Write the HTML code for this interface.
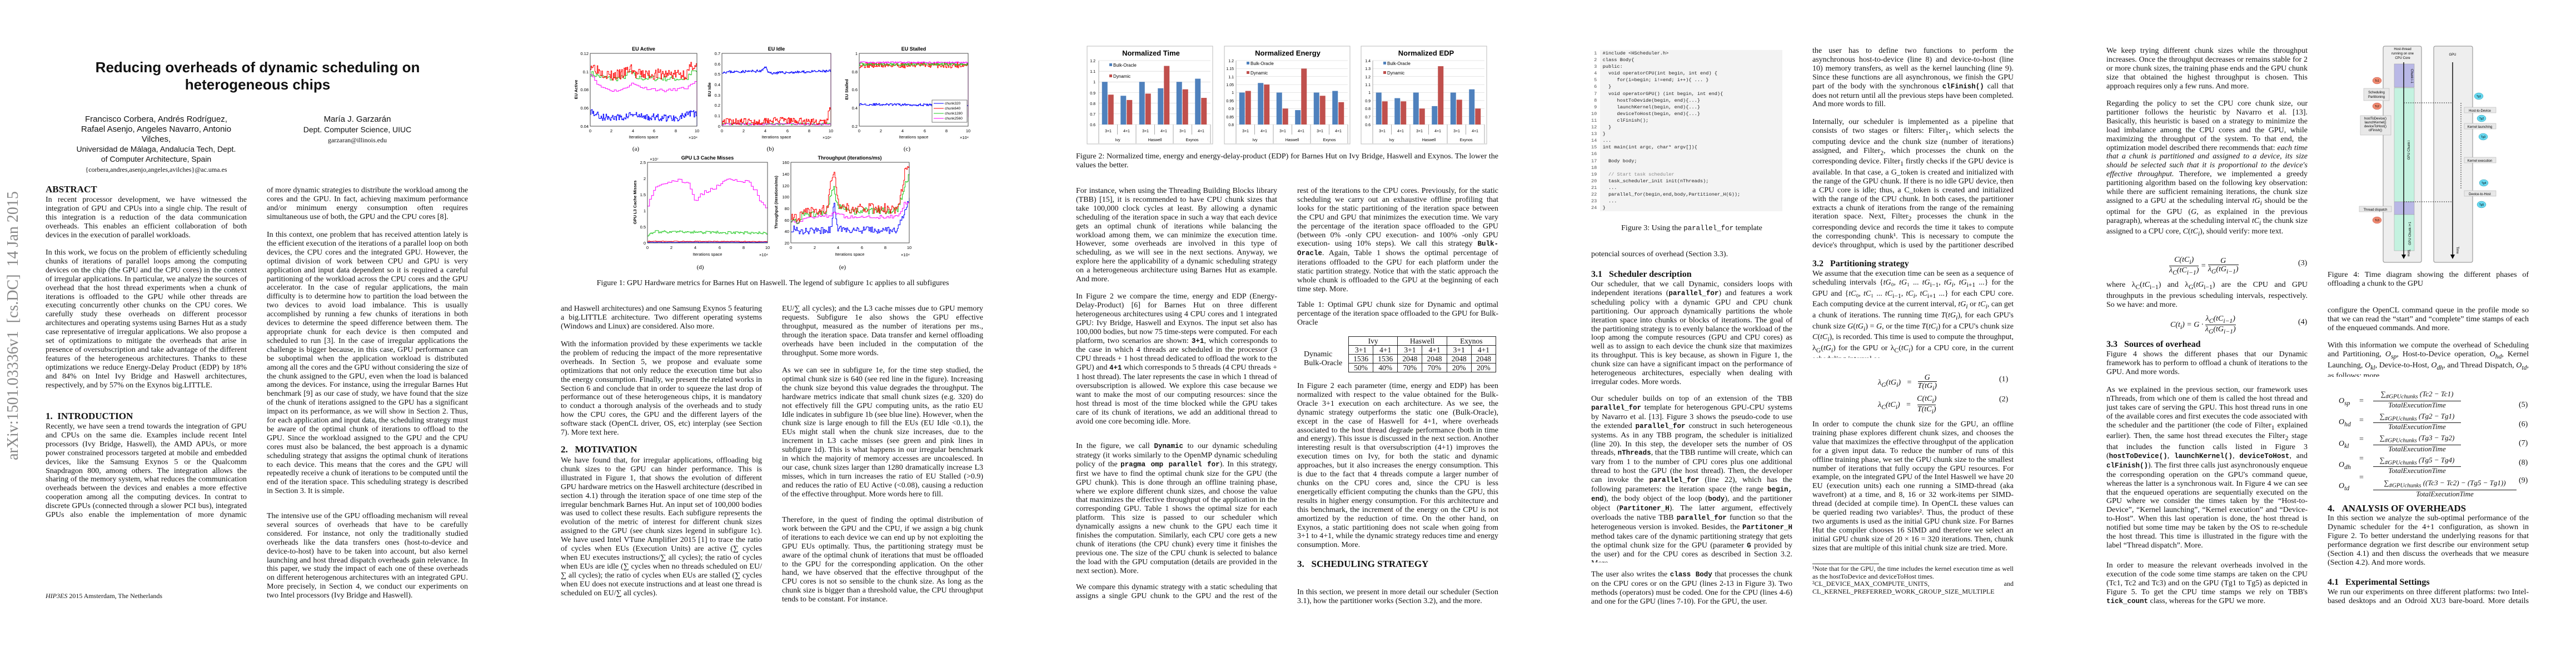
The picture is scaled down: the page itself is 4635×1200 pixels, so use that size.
<!DOCTYPE html>
<html><head><meta charset="utf-8">
<style>
*{margin:0;padding:0;box-sizing:border-box}
body{width:4635px;height:1200px;background:#fff;position:relative;overflow:hidden;font-family:"Liberation Serif",serif;color:#111}
.pg{position:absolute;top:0;width:927px;height:1200px;overflow:hidden}
.p{position:absolute;width:362px;font-size:14px;line-height:15.9px;text-align:justify;overflow:hidden}
.c1{left:82px}.c2{left:480px}
.h{position:absolute;font-weight:bold;font-size:17px;line-height:20px;white-space:nowrap}
.h2{position:absolute;font-weight:bold;font-size:16px;line-height:20px;white-space:nowrap}
.eq{position:absolute;font-size:14px;font-style:italic;white-space:nowrap}
.en{position:absolute;font-size:14px;white-space:nowrap}
code,.m{font-family:"Liberation Mono",monospace;font-size:12.5px}
svg{position:absolute;left:0;top:0}
svg text{font-family:"Liberation Sans",sans-serif}
.ct{position:absolute;font-size:14px;line-height:15.9px;white-space:nowrap}
table.t{position:absolute;border-collapse:collapse;font-size:13.5px}
table.t td{border:1px solid #222;text-align:center;height:16px;padding:0 2px;line-height:14px}
</style></head><body>

<!-- PAGE 1 -->
<div class="pg" style="left:0">
<div style="position:absolute;left:0;width:927px;top:106px;text-align:center;font-family:'Liberation Sans',sans-serif;font-weight:bold;font-size:26px;line-height:31px">Reducing overheads of dynamic scheduling on<br>heterogeneous chips</div>
<div style="position:absolute;left:100px;width:362px;top:206px;text-align:center;font-family:'Liberation Sans',sans-serif;font-size:15px;line-height:18px">Francisco Corbera, Andrés Rodríguez,<br>Rafael Asenjo, Angeles Navarro, Antonio<br>Vilches,<br><span style="font-size:14px;line-height:16px">Universidad de Málaga, Andalucía Tech, Dept.<br>of Computer Architecture, Spain</span><br><span style="font-family:'Liberation Serif';font-size:12px">{corbera,andres,asenjo,angeles,avilches}@ac.uma.es</span></div>
<div style="position:absolute;left:480px;width:326px;top:206px;text-align:center;font-family:'Liberation Sans',sans-serif;font-size:15px;line-height:18px">María J. Garzarán<br><span style="font-size:14px">Dept. Computer Science, UIUC</span><br><span style="font-family:'Liberation Serif';font-size:12px">garzaran@illinois.edu</span></div>
<div style="position:absolute;left:-235px;top:571px;width:518px;text-align:center;transform:rotate(-90deg);font-size:28px;color:#888;white-space:nowrap;line-height:30px">arXiv:1501.03336v1 &nbsp;[cs.DC] &nbsp;14 Jan 2015</div>
<div class="h c1" style="top:331px">ABSTRACT</div>
<div class="p c1" style="top:352px;height:79.5px">In recent processor development, we have witnessed the integration of GPU and CPUs into a single chip. The result of this integration is a reduction of the data communication overheads. This enables an efficient collaboration of both devices in the execution of parallel workloads.</div>
<div class="p c1" style="top:447px;height:270.3px">In this work, we focus on the problem of efficiently scheduling chunks of iterations of parallel loops among the computing devices on the chip (the GPU and the CPU cores) in the context of irregular applications. In particular, we analyze the sources of overhead that the host thread experiments when a chunk of iterations is offloaded to the GPU while other threads are executing concurrently other chunks on the CPU cores. We carefully study these overheads on different processor architectures and operating systems using Barnes Hut as a study case representative of irregular applications. We also propose a set of optimizations to mitigate the overheads that arise in presence of oversubscription and take advantage of the different features of the heterogeneous architectures. Thanks to these optimizations we reduce Energy-Delay Product (EDP) by 18% and 84% on Intel Ivy Bridge and Haswell architectures, respectively, and by 57% on the Exynos big.LITTLE.</div>
<div class="h c1" style="top:739px">1. &nbsp;INTRODUCTION</div>
<div class="p c1" style="top:760px;height:174.9px">Recently, we have seen a trend towards the integration of GPU and CPUs on the same die. Examples include recent Intel processors (Ivy Bridge, Haswell), the AMD APUs, or more power constrained processors targeted at mobile and embedded devices, like the Samsung Exynos 5 or the Qualcomm Snapdragon 800, among others. The integration allows the sharing of the memory system, what reduces the communication overheads between the devices and enables a more effective cooperation among all the computing devices. In contrat to discrete GPUs (connected through a slower PCI bus), integrated GPUs also enable the implementation of more dynamic strategies.</div>
<div style="position:absolute;left:82px;top:1065px;font-size:12px"><i>HIP3ES</i> 2015 Amsterdam, The Netherlands</div>
<div class="p c2" style="top:335px;height:63.6px">of more dynamic strategies to distribute the workload among the cores and the GPU. In fact, achieving maximum performance and/or minimum energy consumption often requires simultaneous use of both, the GPU and the CPU cores [8].</div>
<div class="p c2" style="top:415px;height:492.9px">In this context, one problem that has received attention lately is the efficient execution of the iterations of a parallel loop on both devices, the CPU cores and the integrated GPU. However, the optimal division of work between CPU and GPU is very application and input data dependent so it is required a careful partitioning of the workload across the CPU cores and the GPU accelerator. In the case of regular applications, the main difficulty is to determine how to partition the load between the two devices to avoid load imbalance. This is usually accomplished by running a few chunks of iterations in both devices to determine the speed difference between them. The appropriate chunk for each device is then computed and scheduled to run [3]. In the case of irregular applications the challenge is bigger because, in this case, GPU performance can be suboptimal when the application workload is distributed among all the cores and the GPU without considering the size of the chunk assigned to the GPU, even when the load is balanced among the devices. For instance, using the irregular Barnes Hut benchmark [9] as our case of study, we have found that the size of the chunk of iterations assigned to the GPU has a significant impact on its performance, as we will show in Section 2. Thus, for each application and input data, the scheduling strategy must be aware of the optimal chunk of iterations to offload to the GPU. Since the workload assigned to the GPU and the CPU cores must also be balanced, the best approach is a dynamic scheduling strategy that assigns the optimal chunk of iterations to each device. This means that the cores and the GPU will repeatedly receive a chunk of iterations to be computed until the end of the iteration space. This scheduling strategy is described in Section 3. It is simple.</div>
<div class="p c2" style="top:921px;height:174.9px">The intensive use of the GPU offloading mechanism will reveal several sources of overheads that have to be carefully considered. For instance, not only the traditionally studied overheads like the data transfers ones (host-to-device and device-to-host) have to be taken into account, but also kernel launching and host thread dispatch overheads gain relevance. In this paper, we study the impact of each one of these overheads on different heterogenous architectures with an integrated GPU. More precisely, in Section 4, we conduct our experiments on two Intel processors (Ivy Bridge and Haswell).</div>
</div>

<!-- PAGE 2 -->
<div class="pg" style="left:927px">
<svg id="s2" width="927" height="1200" font-size="7.5">
<g font-weight="bold" font-size="9" text-anchor="middle"><text x="231" y="91">EU Active</text><text x="470" y="91">EU Idle</text><text x="717" y="91">EU Stalled</text><text x="346" y="287">GPU L3 Cache Misses</text><text x="602" y="287">Throughput (iterations/ms)</text></g>
<g font-size="7.5" text-anchor="middle"><text x="231" y="249">Iterations space</text><text x="470" y="249">Iterations space</text><text x="717" y="249">Iterations space</text><text x="346" y="460">Iterations space</text><text x="602" y="460">Iterations space</text>
<text x="320" y="250">×10⁴</text><text x="561" y="250">×10⁴</text><text x="808" y="250">×10⁴</text><text x="447" y="461">×10⁴</text><text x="702" y="461">×10⁴</text><text x="250" y="289">×10⁷</text>
<text x="135" y="238">0</text><text x="173" y="238">2</text><text x="212" y="238">4</text><text x="250" y="238">6</text><text x="289" y="238">8</text><text x="327" y="238">10</text>
<text x="372" y="238">0</text><text x="411" y="238">2</text><text x="450" y="238">4</text><text x="490" y="238">6</text><text x="529" y="238">8</text><text x="568" y="238">10</text>
<text x="619" y="238">0</text><text x="658" y="238">2</text><text x="697" y="238">4</text><text x="737" y="238">6</text><text x="776" y="238">8</text><text x="815" y="238">10</text>
<text x="238" y="448">0</text><text x="281" y="448">2</text><text x="324" y="448">4</text><text x="368" y="448">6</text><text x="411" y="448">8</text><text x="454" y="448">10</text>
<text x="496" y="448">0</text><text x="539" y="448">2</text><text x="581" y="448">4</text><text x="624" y="448">6</text><text x="666" y="448">8</text><text x="709" y="448">10</text></g>
<g font-size="7.5" text-anchor="end">
<text x="132" y="230">0.04</text><text x="132" y="197">0.06</text><text x="132" y="164">0.08</text><text x="132" y="132">0.1</text><text x="132" y="99">0.12</text>
<text x="369" y="230">0</text><text x="369" y="211">0.1</text><text x="369" y="192">0.2</text><text x="369" y="174">0.3</text><text x="369" y="155">0.4</text><text x="369" y="136">0.5</text><text x="369" y="118">0.6</text><text x="369" y="99">0.7</text>
<text x="616" y="230">0.2</text><text x="616" y="197">0.4</text><text x="616" y="164">0.6</text><text x="616" y="132">0.8</text><text x="616" y="99">1</text>
<text x="235" y="440">0</text><text x="235" y="411">0.5</text><text x="235" y="382">1</text><text x="235" y="353">1.5</text><text x="235" y="324">2</text><text x="235" y="295">2.5</text>
<text x="493" y="440">20</text><text x="493" y="419">40</text><text x="493" y="399">60</text><text x="493" y="378">80</text><text x="493" y="357">100</text><text x="493" y="337">120</text><text x="493" y="316">140</text><text x="493" y="295">160</text></g>
<g font-size="7.5" font-weight="bold" text-anchor="middle">
<text transform="translate(112,161) rotate(-90)">EU Active</text><text transform="translate(352,161) rotate(-90)">EU Idle</text><text transform="translate(599,161) rotate(-90)">EU Stalled</text><text transform="translate(218,364) rotate(-90)">GPU L3 Cache Misses</text><text transform="translate(472,364) rotate(-90)">Throughput (iterations/ms)</text></g>
<g font-family="Liberation Serif" font-size="11" text-anchor="middle"><text x="217" y="271" style="font-family:'Liberation Serif'">(a)</text><text x="459" y="271" style="font-family:'Liberation Serif'">(b)</text><text x="705" y="271" style="font-family:'Liberation Serif'">(c)</text><text x="333" y="484" style="font-family:'Liberation Serif'">(d)</text><text x="589" y="484" style="font-family:'Liberation Serif'">(e)</text></g>
<g id="f1"></g>
<g fill="none" stroke="#222" stroke-width="0.8"><rect x="135" y="96" width="192" height="131"/><rect x="372" y="96" width="196" height="131"/><rect x="619" y="96" width="196" height="131"/><rect x="238" y="292" width="216" height="145"/><rect x="496" y="292" width="213" height="145"/></g>
<rect x="750" y="180" width="63" height="40" fill="#fff" stroke="#222" stroke-width="0.6"/>
<g stroke-width="1"><line x1="753" y1="186" x2="771" y2="186" stroke="#00f"/><line x1="753" y1="195" x2="771" y2="195" stroke="#f00"/><line x1="753" y1="204" x2="771" y2="204" stroke="#1ec81e"/><line x1="753" y1="213" x2="771" y2="213" stroke="#f0f"/></g>
<g font-size="6.5"><text x="773" y="188">chunk320</text><text x="773" y="197">chunk640</text><text x="773" y="206">chunk1280</text><text x="773" y="215">chunk2560</text></g>
</svg>
<div class="ct" style="left:0;width:927px;text-align:center;top:502px">Figure 1: GPU Hardware metrics for Barnes Hut on Haswell. The legend of subfigure 1c applies to all subfigures</div>
<div class="p c1" style="top:548px;height:47.7px">and Haswell architectures) and one Samsung Exynos 5 featuring a big.LITTLE architecture. Two different operating systems (Windows and Linux) are considered. Also more.</div>
<div class="p c1" style="top:612px;height:174.9px">With the information provided by these experiments we tackle the problem of reducing the impact of the more representative overheads. In Section 5, we propose and evaluate some optimizations that not only reduce the execution time but also the energy consumption. Finally, we present the related works in Section 6 and conclude that in order to squeeze the last drop of performance out of these heterogeneous chips, it is mandatory to conduct a thorough analysis of the overheads and to study how the CPU cores, the GPU and the different layers of the software stack (OpenCL driver, OS, etc) interplay (see Section 7). More text here.</div>
<div class="h c1" style="top:799px">2. &nbsp;&nbsp;MOTIVATION</div>
<div class="p c1" style="top:821px;height:270.3px">We have found that, for irregular applications, offloading big chunk sizes to the GPU can hinder performance. This is illustrated in Figure 1, that shows the evolution of different GPU hardware metrics on the Haswell architecture (described in section 4.1) through the iteration space of one time step of the irregular benchmark Barnes Hut. An input set of 100,000 bodies was used to collect these results. Each subfigure represents the evolution of the metric of interest for different chunk sizes assigned to the GPU (see chunk sizes legend in subfigure 1c). We have used Intel VTune Amplifier 2015 [1] to trace the ratio of cycles when EUs (Execution Units) are active (∑ cycles when EU executes instructions/∑ all cycles); the ratio of cycles when EUs are idle (∑ cycles when no threads scheduled on EU/∑ all cycles); the ratio of cycles when EUs are stalled (∑ cycles when EU does not execute instructions and at least one thread is scheduled on EU/∑ all cycles).</div>
<div class="p c2" style="top:548px;height:95.4px">EU/∑ all cycles); and the L3 cache misses due to GPU memory requests. Subfigure 1e also shows the GPU effective throughput, measured as the number of iterations per ms., through the iteration space. Data transfer and kernel offloading overheads have been included in the computation of the throughput. Some more words.</div>
<div class="p c2" style="top:659px;height:254.4px">As we can see in subfigure 1e, for the time step studied, the optimal chunk size is 640 (see red line in the figure). Increasing the chunk size beyond this value degrades the throughput. The hardware metrics indicate that small chunk sizes (e.g. 320) do not effectively fill the GPU computing units, as the ratio EU Idle indicates in subfigure 1b (see blue line). However, when the chunk size is large enough to fill the EUs (EU Idle &lt;0.1), the EUs might stall when the chunk size increases, due to the increment in L3 cache misses (see green and pink lines in subfigure 1d). This is what happens in our irregular benchmark in which the majority of memory accesses are uncoalesced. In our case, chunk sizes larger than 1280 dramatically increase L3 misses, which in turn increases the ratio of EU Stalled (&gt;0.9) and reduces the ratio of EU Active (&lt;0.08), causing a reduction of the effective throughput. More words here to fill.</div>
<div class="p c2" style="top:928px;height:159px">Therefore, in the quest of finding the optimal distribution of work between the GPU and the CPU, if we assign a big chunk of iterations to each device we can end up by not exploiting the GPU EUs optimally. Thus, the partitioning strategy must be aware of the optimal chunk of iterations that must be offloaded to the GPU for the corresponding application. On the other hand, we have observed that the effective throughput of the CPU cores is not so sensible to the chunk size. As long as the chunk size is bigger than a threshold value, the CPU throughput tends to be constant. For instance.</div>
</div>

<!-- PAGE 3 -->
<div class="pg" style="left:1854px">
<svg id="s3" width="927" height="1200">
<g fill="#fff" stroke="#bbb" stroke-width="1"><rect x="102" y="83" width="226" height="176"/><rect x="349" y="83" width="226" height="176"/><rect x="595" y="83" width="226" height="176"/></g>
<g id="f2"></g>
<g font-weight="bold" font-size="13" text-anchor="middle"><text x="217" y="100">Normalized Time</text><text x="463" y="100">Normalized Energy</text><text x="712" y="100">Normalized EDP</text></g>
<g font-size="7" text-anchor="end">
<text x="117" y="112">1.2</text><text x="117" y="131">1.1</text><text x="117" y="150">1</text><text x="117" y="170">0.9</text><text x="117" y="189">0.8</text><text x="117" y="208">0.7</text><text x="117" y="227">0.6</text>
<text x="366" y="112">1.2</text><text x="366" y="126">1.15</text><text x="366" y="141">1.1</text><text x="366" y="155">1.05</text><text x="366" y="169">1</text><text x="366" y="184">0.95</text><text x="366" y="198">0.9</text><text x="366" y="213">0.85</text><text x="366" y="227">0.8</text>
<text x="612" y="112">1.4</text><text x="612" y="126">1.3</text><text x="612" y="141">1.2</text><text x="612" y="155">1.1</text><text x="612" y="169">1</text><text x="612" y="184">0.9</text><text x="612" y="198">0.8</text><text x="612" y="213">0.7</text><text x="612" y="227">0.6</text></g>
<g id="lab" font-size="7" text-anchor="middle"></g>
<g font-size="8"><rect x="142" y="114" width="5" height="5" fill="#4f81bd"/><text x="149" y="120">Bulk-Oracle</text><rect x="142" y="134" width="5" height="5" fill="#c0504d"/><text x="149" y="140">Dynamic</text>
<rect x="389" y="111" width="5" height="5" fill="#4f81bd"/><text x="396" y="117">Bulk-Oracle</text><rect x="389" y="128" width="5" height="5" fill="#c0504d"/><text x="396" y="134">Dynamic</text>
<rect x="635" y="111" width="5" height="5" fill="#4f81bd"/><text x="642" y="117">Bulk-Oracle</text><rect x="635" y="128" width="5" height="5" fill="#c0504d"/><text x="642" y="134">Dynamic</text></g>
</svg>
<div class="p" style="left:82px;width:760px;top:274px;height:31.8px">Figure 2: Normalized time, energy and energy-delay-product (EDP) for Barnes Hut on Ivy Bridge, Haswell and Exynos. The lower the values the better.</div>
<div class="p c1" style="top:336px;height:174.9px">For instance, when using the Threading Building Blocks library (TBB) [15], it is recommended to have CPU chunk sizes that take 100,000 clock cycles at least. By allowing a dynamic scheduling of the iteration space in such a way that each device gets an optimal chunk of iterations while balancing the workload among them, we can minimize the execution time. However, some overheads are involved in this type of scheduling, as we will see in the next sections. Anyway, we explore here the applicability of a dynamic scheduling strategy on a heterogeneous architecture using Barnes Hut as example. And more.</div>
<div class="p c1" style="top:526px;height:254.4px">In Figure 2 we compare the time, energy and EDP (Energy-Delay-Product) [6] for Barnes Hut on three different heterogeneous architectures using 4 CPU cores and 1 integrated GPU: Ivy Bridge, Haswell and Exynos. The input set also has 100,000 bodies, but now 75 time-steps were computed. For each platform, two scenarios are shown: <b class="m">3+1</b>, which corresponds to the case in which 4 threads are scheduled in the processor (3 CPU threads + 1 host thread dedicated to offload the work to the GPU) and <b class="m">4+1</b> which corresponds to 5 threads (4 CPU threads + 1 host thread). The later represents the case in which 1 thread of oversubscription is allowed. We explore this case because we want to make the most of our computing resources: since the host thread is most of the time blocked while the GPU takes care of its chunk of iterations, we add an additional thread to avoid one core becoming idle. More.</div>
<div class="p c1" style="top:795px;height:238.5px">In the figure, we call <b class="m">Dynamic</b> to our dynamic scheduling strategy (it works similarly to the OpenMP dynamic scheduling policy of the <b class="m">pragma omp parallel for</b>). In this strategy, first we have to find the optimal chunk size for the GPU (the GPU chunk). This is done through an offline training phase, where we explore different chunk sizes, and choose the value that maximizes the effective throughput of the application in the corresponding GPU. Table 1 shows the optimal size for each platform. This size is passed to our scheduler which dynamically assigns a new chunk to the GPU each time it finishes the computation. Similarly, each CPU core gets a new chunk of iterations (the CPU chunk) every time it finishes the previous one. The size of the CPU chunk is selected to balance the load with the GPU computation (details are provided in the next section). More.</div>
<div class="p c1" style="top:1049px;height:31.8px">We compare this dynamic strategy with a static scheduling that assigns a single GPU chunk to the GPU and the rest of the iterations.</div>
<div class="p c2" style="top:336px;height:190.8px">rest of the iterations to the CPU cores. Previously, for the static scheduling we carry out an exhaustive offline profiling that looks for the static partitioning of the iteration space between the CPU and GPU that minimizes the execution time. We vary the percentage of the iteration space offloaded to the GPU (between 0% -only CPU execution- and 100% -only GPU execution- using 10% steps). We call this strategy <b class="m">Bulk-Oracle</b>. Again, Table 1 shows the optimal percentage of iterations offloaded to the GPU for each platform under the static partition strategy. Notice that with the static approach the whole chunk is offloaded to the GPU at the beginning of each time step. More.</div>
<div class="p c2" style="top:541px;height:47.7px">Table 1: Optimal GPU chunk size for Dynamic and optimal percentage of the iteration space offloaded to the GPU for Bulk-Oracle</div>
<div class="en" style="left:492px;top:630px;line-height:16px">Dynamic<br>Bulk-Oracle</div>
<table class="t" style="left:572px;top:605px;width:266px">
<tr><td colspan="2">Ivy</td><td colspan="2">Haswell</td><td colspan="2">Exynos</td></tr>
<tr><td>3+1</td><td>4+1</td><td>3+1</td><td>4+1</td><td>3+1</td><td>4+1</td></tr>
<tr><td>1536</td><td>1536</td><td>2048</td><td>2048</td><td>2048</td><td>2048</td></tr>
<tr><td>50%</td><td>40%</td><td>70%</td><td>70%</td><td>20%</td><td>20%</td></tr>
</table>
<div class="p c2" style="top:687px;height:302.1px">In Figure 2 each parameter (time, energy and EDP) has been normalized with respect to the value obtained for the Bulk-Oracle 3+1 execution on each architecture. As we see, the dynamic strategy outperforms the static one (Bulk-Oracle), except in the case of Haswell for 4+1, where overheads associated to the host thread degrade performance (both in time and energy). This issue is discussed in the next section. Another interesting result is that oversubscription (4+1) improves the execution times on Ivy, for both the static and dynamic approaches, but it also increases the energy consumption. This is due to the fact that 4 threads compute a larger number of chunks on the CPU cores and, since the CPU is less energetically efficient computing the chunks than the GPU, this results in higher energy consumption. For this architecture and this benchmark, the increment of the energy on the CPU is not amortized by the reduction of time. On the other hand, on Exynos, a static partitioning does not scale when going from 3+1 to 4+1, while the dynamic strategy reduces time and energy consumption. More.</div>
<div class="h c2" style="top:1005px">3. &nbsp;&nbsp;SCHEDULING STRATEGY</div>
<div class="p c2" style="top:1058px;height:31.8px">In this section, we present in more detail our scheduler (Section 3.1), how the partitioner works (Section 3.2), and the more.</div>
</div>

<!-- PAGE 4 -->
<div class="pg" style="left:2781px">
<div style="position:absolute;left:98px;top:90px;width:328px;height:290px;background:#f3f3f3"></div>
<pre style="position:absolute;left:82px;top:90px;font-family:'Liberation Mono',monospace;font-size:8.6px;line-height:12.1px;color:#222"><span style="color:#555"> 1</span>  #include &lt;HScheduler.h&gt;
<span style="color:#555"> 2</span>  class Body{
<span style="color:#555"> 3</span>  public:
<span style="color:#555"> 4</span>    void operatorCPU(int begin, int end) {
<span style="color:#555"> 5</span>       for(i=begin; i!=end; i++){ ... }
<span style="color:#555"> 6</span>    }
<span style="color:#555"> 7</span>    void operatorGPU() (int begin, int end){
<span style="color:#555"> 8</span>       hostToDevide(begin, end){...}
<span style="color:#555"> 9</span>       launchKernel(begin, end){...}
<span style="color:#555">10</span>       deviceToHost(begin, end){...}
<span style="color:#555">11</span>       clFinish();
<span style="color:#555">12</span>    }
<span style="color:#555">13</span>  }
<span style="color:#555">14</span>  ...
<span style="color:#555">15</span>  int main(int argc, char* argv[]){
<span style="color:#555">16</span>
<span style="color:#555">17</span>    Body body;
<span style="color:#555">18</span>
<span style="color:#555">19</span>    <span style="color:#888">// Start task scheduler</span>
<span style="color:#555">20</span>    task_scheduler_init init(nThreads);
<span style="color:#555">21</span>    ...
<span style="color:#555">22</span>    parallel_for(begin,end,body,Partitioner_H(G));
<span style="color:#555">23</span>    ...
<span style="color:#555">24</span>  }</pre>
<div class="ct" style="left:82px;width:362px;text-align:center;top:403px">Figure 3: Using the <span class="m">parallel_for</span> template</div>
<div class="p c1" style="top:450px;height:15.9px">potencial sources of overhead (Section 3.3).</div>
<div class="h2 c1" style="top:484px">3.1 &nbsp;&nbsp;Scheduler description</div>
<div class="p c1" style="top:504px;height:190.8px">Our scheduler, that we call Dynamic, considers loops with independent iterations (<b class="m">parallel_for</b>) and features a work scheduling policy with a dynamic GPU and CPU chunk partitioning. Our approach dynamically partitions the whole iteration space into chunks or blocks of iterations. The goal of the partitioning strategy is to evenly balance the workload of the loop among the compute resources (GPU and CPU cores) as well as to assign to each device the chunk size that maximizes its throughput. This is key because, as shown in Figure 1, the chunk size can have a significant impact on the performance of heterogeneous architectures, especially when dealing with irregular codes. More words.</div>
<div class="p c1" style="top:710px;height:302.1px">Our scheduler builds on top of an extension of the TBB <b class="m">parallel_for</b> template for heterogenous GPU-CPU systems by Navarro et al. [13]. Figure 3 shows the pseudo-code to use the extended <b class="m">parallel_for</b> construct in such heterogeneous systems. As in any TBB program, the scheduler is initialized (line 20). In this step, the developer sets the number of OS threads, <b class="m">nThreads</b>, that the TBB runtime will create, which can vary from 1 to the number of CPU cores plus one additional thread to host the GPU (the host thread). Then, the developer can invoke the <b class="m">parallel_for</b> (line 22), which has the following parameters: the iteration space (the range <b class="m">begin, end</b>), the body object of the loop (<b class="m">body</b>), and the partitioner object (<b class="m">Partitoner_H</b>). The latter argument, effectively overloads the native TBB <b class="m">parallel_for</b> function so that the heterogeneous version is invoked. Besides, the <b class="m">Partitoner_H</b> method takes care of the dynamic partitioning strategy that gets the optimal chunk size for the GPU (parameter <b class="m">G</b> provided by the user) and for the CPU cores as described in Section 3.2. More.</div>
<div class="p c1" style="top:1026px;height:63.6px">The user also writes the <b class="m">class Body</b> that processes the chunk on the CPU cores or on the GPU (lines 2-13 in Figure 3). Two methods (operators) must be coded. One for the CPU (lines 4-6) and one for the GPU (lines 7-10). For the GPU, the user.</div>
<div class="p c2" style="top:84px;height:111.3px">the user has to define two functions to perform the asynchronous host-to-device (line 8) and device-to-host (line 10) memory transfers, as well as the kernel launching (line 9). Since these functions are all asynchronous, we finish the GPU part of the body with the synchronous <b class="m">clFinish()</b> call that does not return until all the previous steps have been completed. And more words to fill.</div>
<div class="p c2" style="top:212px;height:238.5px">Internally, our scheduler is implemented as a pipeline that consists of two stages or filters: Filter<sub>1</sub>, which selects the computing device and the chunk size (number of iterations) assigned, and Filter<sub>2</sub>, which processes the chunk on the corresponding device. Filter<sub>1</sub> firstly checks if the GPU device is available. In that case, a G_token is created and initialized with the range of the GPU chunk. If there is no idle GPU device, then a CPU core is idle; thus, a C_token is created and initialized with the range of the CPU chunk. In both cases, the partitioner extracts a chunk of iterations from the range of the remaining iteration space. Next, Filter<sub>2</sub> processes the chunk in the corresponding device and records the time it takes to compute the corresponding chunk¹. This is necessary to compute the device's throughput, which is used by the partitioner described next. More words.</div>
<div class="h2 c2" style="top:465px">3.2 &nbsp;&nbsp;Partitioning strategy</div>
<div class="p c2" style="top:485px;height:159px">We assume that the execution time can be seen as a sequence of scheduling intervals {<i>tG</i>₀, <i>tG</i>₁ ... <i>tG</i><sub>i−1</sub>, <i>tG<sub>i</sub></i>, <i>tG</i><sub>i+1</sub> ...} for the GPU and {<i>tC</i>₀, <i>tC</i>₁ ... <i>tC</i><sub>i−1</sub>, <i>tC<sub>i</sub></i>, <i>tC</i><sub>i+1</sub> ...} for each CPU core. Each computing device at the current interval, <i>tG<sub>i</sub></i> or <i>tC<sub>i</sub></i>, can get a chunk of iterations. The running time <i>T</i>(<i>tG<sub>i</sub></i>), for each GPU's chunk size <i>G</i>(<i>tG<sub>i</sub></i>) = <i>G</i>, or the time <i>T</i>(<i>tC<sub>i</sub></i>) for a CPU's chunk size <i>C</i>(<i>tC<sub>i</sub></i>), is recorded. This time is used to compute the throughput, λ<sub>G</sub>(<i>tG<sub>i</sub></i>) for the GPU or λ<sub>C</sub>(<i>tC<sub>i</sub></i>) for a CPU core, in the current scheduling interval as,</div>
<div class="eq" style="left:598px;top:672px">λ<sub>G</sub>(tG<sub>i</sub>) &nbsp;&nbsp;=&nbsp;&nbsp; <span style="display:inline-block;text-align:center;vertical-align:middle;line-height:15px">G<br><span style="border-top:1px solid #111">T(tG<sub>i</sub>)</span></span></div>
<div class="eq" style="left:598px;top:710px">λ<sub>C</sub>(tC<sub>i</sub>) &nbsp;&nbsp;=&nbsp;&nbsp; <span style="display:inline-block;text-align:center;vertical-align:middle;line-height:15px">C(tC<sub>i</sub>)<br><span style="border-top:1px solid #111">T(tC<sub>i</sub>)</span></span></div>
<div class="en" style="left:816px;top:675px">(1)</div><div class="en" style="left:816px;top:711px">(2)</div>
<div class="p c2" style="top:756px;height:254.4px">In order to compute the chunk size for the GPU, an offline training phase explores different chunk sizes, and chooses the value that maximizes the effective throughput of the application for a given input data. To reduce the number of runs of this offline training phase, we set the GPU chunk size to the smallest number of iterations that fully occupy the GPU resources. For example, on the integrated GPU of the Intel Haswell we have 20 EU (execution units) each one running a SIMD-thread (aka wavefront) at a time, and 8, 16 or 32 work-items per SIMD-thread (decided at compile time). In OpenCL these values can be queried reading two variables². Thus, the product of these two arguments is used as the initial GPU chunk size. For Barnes Hut the compiler chooses 16 SIMD and therefore we select an initial GPU chunk size of 20 × 16 = 320 iterations. Then, chunk sizes that are multiple of this initial chunk size are tried. More.</div>
<div style="position:absolute;left:480px;top:1014px;width:120px;border-top:1px solid #333"></div>
<div style="position:absolute;left:480px;top:1017px;width:362px;font-size:12px;line-height:13.5px;text-align:justify">¹Note that for the GPU, the time includes the kernel execution time as well as the hostToDevice and deviceToHost times.<br>²CL_DEVICE_MAX_COMPUTE_UNITS, and CL_KERNEL_PREFERRED_WORK_GROUP_SIZE_MULTIPLE</div>
</div>

<!-- PAGE 5 -->
<div class="pg" style="left:3708px">
<svg width="927" height="1200" font-size="6">
<rect x="580" y="83" width="69" height="389" rx="3" fill="#eee" stroke="#888"/>
<rect x="671" y="83" width="70" height="389" rx="3" fill="#eee" stroke="#888"/>
<rect x="600" y="115" width="36" height="42" fill="#b9b8e6" stroke="#999" stroke-width="0.5"/>
<rect x="600" y="158" width="36" height="205" fill="#c4f2e0" stroke="#999" stroke-width="0.5"/>
<rect x="600" y="363" width="36" height="23" fill="#b9b8e6" stroke="#999" stroke-width="0.5"/>
<rect x="600" y="386" width="36" height="65" fill="#c4f2e0" stroke="#999" stroke-width="0.5"/>
<line x1="617" y1="112" x2="617" y2="462" stroke="#111" stroke-width="1.5"/>
<line x1="705" y1="112" x2="705" y2="462" stroke="#111" stroke-width="1.5"/>
<path d="M613 458 L617 466 L621 458Z M701 458 L705 466 L709 458Z"/>
<g stroke="#333" stroke-dasharray="2,2" fill="none"><line x1="617" y1="185" x2="703" y2="185"/><line x1="617" y1="363" x2="703" y2="363"/><line x1="720" y1="185" x2="720" y2="340"/></g>
<g text-anchor="middle" font-size="6"><text x="615" y="90">Host-thread</text><text x="615" y="98">running on one</text><text x="615" y="106">CPU Core</text><text x="705" y="100">GPU</text></g>
<g fill="#e8e8e8" stroke="#aaa" stroke-width="0.5"><rect x="545" y="159" width="46" height="22"/><rect x="539" y="208" width="55" height="35"/><rect x="537" y="371" width="58" height="10"/><rect x="726" y="193" width="57" height="10"/><rect x="726" y="222" width="57" height="10"/><rect x="726" y="283" width="57" height="10"/><rect x="726" y="343" width="57" height="10"/></g>
<g text-anchor="middle" font-size="6"><text x="568" y="168">Scheduling</text><text x="568" y="176">Partitioning</text><text x="566" y="215">hostToDevice()</text><text x="566" y="222">launchKernel()</text><text x="566" y="229">deviceToHost()</text><text x="566" y="236">clFinish()</text><text x="566" y="379">Thread dispatch</text><text x="754" y="201">Host-to-Device</text><text x="754" y="230">Kernel launching</text><text x="754" y="291">Kernel execution</text><text x="754" y="351">Device-to-Host</text></g>
<g fill="#f08a70" stroke="#b55" stroke-width="0.5"><ellipse cx="569" cy="145" rx="8" ry="6"/><ellipse cx="569" cy="191" rx="8" ry="6"/><ellipse cx="569" cy="396" rx="8" ry="6"/></g>
<g fill="#66d8f0" stroke="#39a" stroke-width="0.5"><ellipse cx="752" cy="173" rx="8" ry="6"/><ellipse cx="757" cy="213" rx="8" ry="6"/><ellipse cx="760" cy="246" rx="8" ry="6"/><ellipse cx="761" cy="329" rx="8" ry="6"/><ellipse cx="757" cy="368" rx="8" ry="6"/></g>
<g font-size="5" text-anchor="middle"><text x="569" y="147">Tc1</text><text x="569" y="193">Tc2</text><text x="569" y="398">Tc3</text><text x="752" y="175">Tg1</text><text x="757" y="215">Tg2</text><text x="760" y="248">Tg3</text><text x="761" y="331">Tg4</text><text x="757" y="370">Tg5</text></g>
<g font-size="6" text-anchor="middle"><text transform="translate(630,137) rotate(90)">Chunk i-1</text><text transform="translate(628,270) rotate(-90)">GPU Chunk i</text><text transform="translate(630,420) rotate(-90)">GPU Chunk i+1</text><text transform="translate(624,455) rotate(90)">Time</text><text transform="translate(712,450) rotate(90)">Time</text></g>
</svg>
<div class="p c1" style="top:84px;height:79.5px">We keep trying different chunk sizes while the throughput increases. Once the throughput decreases or remains stable for 2 or more chunk sizes, the training phase ends and the GPU chunk size that obtained the highest throughput is chosen. This approach requires only a few runs. And more.</div>
<div class="p c1" style="top:179px;height:254.4px">Regarding the policy to set the CPU core chunk size, our partitioner follows the heuristic by Navarro et al. [13]. Basically, this heuristic is based on a strategy to minimize the load imbalance among the CPU cores and the GPU, while maximizing the throughput of the system. To that end, the optimization model described there recommends that: <i>each time that a chunk is partitioned and assigned to a device, its size should be selected such that it is proportional to the device's effective throughput.</i> Therefore, we implemented a greedy partitioning algorithm based on the following key observation: while there are sufficient remaining iterations, the chunk size assigned to a GPU at the scheduling interval <i>tG<sub>i</sub></i> should be the optimal for the GPU (<i>G</i>, as explained in the previous paragraph), whereas at the scheduling interval <i>tC<sub>i</sub></i> the chunk size assigned to a CPU core, <i>C</i>(<i>tC<sub>i</sub></i>), should verify: more text.</div>
<div class="eq" style="left:195px;top:460px"><span style="display:inline-block;text-align:center;vertical-align:middle;line-height:15px">C(tC<sub>i</sub>)<br><span style="border-top:1px solid #111">λ<sub>C</sub>(tC<sub>i−1</sub>)</span></span> = <span style="display:inline-block;text-align:center;vertical-align:middle;line-height:15px">G<br><span style="border-top:1px solid #111">λ<sub>G</sub>(tG<sub>i−1</sub>)</span></span></div>
<div class="en" style="left:427px;top:466px">(3)</div>
<div class="p c1" style="top:505px;height:47.7px">where λ<sub>C</sub>(<i>tC</i><sub>i−1</sub>) and λ<sub>G</sub>(<i>tG</i><sub>i−1</sub>) are the CPU and GPU throughputs in the previous scheduling intervals, respectively. So we have: and more.</div>
<div class="eq" style="left:197px;top:566px">C(t<sub>i</sub>) = G · <span style="display:inline-block;text-align:center;vertical-align:middle;line-height:15px">λ<sub>C</sub>(tC<sub>i−1</sub>)<br><span style="border-top:1px solid #111">λ<sub>G</sub>(tG<sub>i−1</sub>)</span></span></div>
<div class="en" style="left:427px;top:572px">(4)</div>
<div class="h2 c1" style="top:610px">3.3 &nbsp;&nbsp;Sources of overhead</div>
<div class="p c1" style="top:630px;height:47.7px">Figure 4 shows the different phases that our Dynamic framework has to perform to offload a chunk of iterations to the GPU. And more words.</div>
<div class="p c1" style="top:694px;height:302.1px">As we explained in the previous section, our framework uses nThreads, from which one of them is called the host thread and just takes care of serving the GPU. This host thread runs in one of the available cores and first executes the code associated with the scheduler and the partitioner (the code of Filter<sub>1</sub> explained earlier). Then, the same host thread executes the Filter<sub>2</sub> stage that includes the function calls listed in Figure 3 (<b class="m">hostToDevice()</b>, <b class="m">launchKernel()</b>, <b class="m">deviceToHost</b>, and <b class="m">clFinish()</b>). The first three calls just asynchronously enqueue the corresponding operation on the GPU's command queue, whereas the latter is a synchronous wait. In Figure 4 we can see that the enqueued operations are sequentially executed on the GPU where we consider the times taken by the “Host-to-Device”, “Kernel launching”, “Kernel execution” and “Device-to-Host”. When this last operation is done, the host thread is notified but some time may be taken by the OS to re-schedule the host thread. This time is illustrated in the figure with the label “Thread dispatch”. More.</div>
<div class="p c1" style="top:1010px;height:79.5px">In order to measure the relevant overheads involved in the execution of the code some time stamps are taken on the CPU (Tc1, Tc2 and Tc3) and on the GPU (Tg1 to Tg5) as depicted in Figure 5. To get the CPU time stamps we rely on TBB's <b class="m">tick_count</b> class, whereas for the GPU we more.</div>
<div class="p c2" style="top:487px;height:31.8px">Figure 4: Time diagram showing the different phases of offloading a chunk to the GPU</div>
<div class="p c2" style="top:551px;height:47.7px">configure the OpenCL command queue in the profile mode so that we can read the “start” and “complete” time stamps of each of the enqueued commands. And more.</div>
<div class="p c2" style="top:614px;height:63.6px">With this information we compute the overhead of Scheduling and Partitioning, <i>O<sub>sp</sub></i>, Host-to-Device operation, <i>O<sub>hd</sub></i>, Kernel Launching, <i>O<sub>kl</sub></i>, Device-to-Host, <i>O<sub>dh</sub></i>, and Thread Dispatch, <i>O<sub>td</sub></i>, as follows: more.</div>
<div class="eq" style="left:500px;top:705px;line-height:34.5px">O<sub>sp</sub><br>O<sub>hd</sub><br>O<sub>kl</sub><br>O<sub>dh</sub><br>O<sub>td</sub></div>
<div class="en" style="left:537px;top:705px;line-height:34.5px">=<br>=<br>=<br>=<br>=</div>
<div class="eq" style="left:562px;top:702px;line-height:14px;text-align:center;font-size:13px">
<div style="width:158px">∑<sub>#GPUchunks</sub> (Tc2 − Tc1)<br><span style="border-top:1px solid #111;display:inline-block;width:158px">TotalExecutionTime</span></div>
<div style="width:158px;margin-top:6px">∑<sub>#GPUchunks</sub> (Tg2 − Tg1)<br><span style="border-top:1px solid #111;display:inline-block;width:158px">TotalExecutionTime</span></div>
<div style="width:158px;margin-top:6px">∑<sub>#GPUchunks</sub> (Tg3 − Tg2)<br><span style="border-top:1px solid #111;display:inline-block;width:158px">TotalExecutionTime</span></div>
<div style="width:158px;margin-top:6px">∑<sub>#GPUchunks</sub> (Tg5 − Tg4)<br><span style="border-top:1px solid #111;display:inline-block;width:158px">TotalExecutionTime</span></div>
<div style="width:258px;margin-top:8px">∑<sub>#GPUchunks</sub> ((Tc3 − Tc2) − (Tg5 − Tg1))<br><span style="border-top:1px solid #111;display:inline-block;width:258px">TotalExecutionTime</span></div></div>
<div class="en" style="left:824px;top:712px;line-height:34.5px">(5)<br>(6)<br>(7)<br>(8)</div><div class="en" style="left:824px;top:857px">(9)</div>
<div class="h c2" style="top:905px">4. &nbsp;&nbsp;ANALYSIS OF OVERHEADS</div>
<div class="p c2" style="top:925px;height:95.4px">In this section we analyze the sub-optimal performance of the Dynamic scheduler for the 4+1 configuration, as shown in Figure 2. To better understand the underlying reasons for that performance degration we first describe our environment setup (Section 4.1) and then discuss the overheads that we measure (Section 4.2). And more words.</div>
<div class="h2 c2" style="top:1038px">4.1 &nbsp;&nbsp;Experimental Settings</div>
<div class="p c2" style="top:1058px;height:31.8px">We run our experiments on three different platforms: two Intel-based desktops and an Odroid XU3 bare-board. More details follow.</div>
</div>

<script>
(function(){
function R(s){return function(){s=(s*16807)%2147483647;return (s-1)/2147483646;}}
function ip(k,x){for(var i=0;i<k.length-1;i++){if(x<=k[i+1][0]){var t=(x-k[i][0])/(k[i+1][0]-k[i][0]);return k[i][1]+t*(k[i+1][1]-k[i][1]);}}return k[k.length-1][1];}
var g=document.getElementById('f1'),h='';
function S(bx,by,bw,bh,y0,y1,kp,nz,n,hold,col,seed,endv){
 var r=R(seed),d='',v=0;
 for(var i=0;i<n;i++){var x=i/(n-1)*10;if(i%hold==0)v=ip(kp,x)+(r()-0.5)*2*nz;
  var vv=Math.max(y0,Math.min(y1,v));var px=bx+x/10*bw,py=by+bh-(vv-y0)/(y1-y0)*bh;
  d+=(i?'H'+px.toFixed(1)+'V':'M'+px.toFixed(1)+' ')+py.toFixed(1);}
 if(endv!==undefined){d+='V'+(by+bh-(endv-y0)/(y1-y0)*bh).toFixed(1);}
 h+='<path d="'+d+'" fill="none" stroke="'+col+'" stroke-width="1"/>';}
var G='#1ec81e';
// (a)
S(135,96,192,131,.04,.12,[[0,.098],[1,.094],[2,.092],[3,.093],[3.8,.1],[4.2,.093],[9,.092],[9.6,.1],[10,.1]],.003,140,2,G,7,.04);
S(135,96,192,131,.04,.12,[[0,.108],[1,.1],[2,.095],[3,.097],[3.8,.104],[4.2,.097],[9,.097],[9.6,.108],[10,.105]],.006,140,1,'#f00',3);
S(135,96,192,131,.04,.12,[[0,.098],[.8,.084],[2,.079],[3,.08],[3.8,.087],[5,.082],[7,.079],[9,.082],[10,.089]],.0015,50,1,'#f0f',11,.04);
S(135,96,192,131,.04,.12,[[0,.057],[1,.05],[3,.049],[3.8,.053],[5,.05],[8,.049],[9.6,.054],[10,.053]],.004,150,1,'#00f',5,.04);
// (b)
S(372,96,196,131,0,.7,[[0,.02],[10,.02]],.01,100,1,G,13);
S(372,96,196,131,0,.7,[[0,.02],[10,.02]],.008,60,1,'#f0f',17,.7);
S(372,96,196,131,0,.7,[[0,.05],[3.5,.04],[4,.06],[9.6,.04],[9.9,.2],[10,.05]],.03,160,1,'#f00',19);
S(372,96,196,131,0,.7,[[0,.52],[3.6,.53],[4,.57],[4.3,.51],[10,.53]],.012,160,1,'#00f',23);
// (c)
S(619,96,196,131,.2,1,[[0,.44],[10,.43]],.012,150,1,'#00f',29,.35);
S(619,96,196,131,.2,1,[[0,.87],[10,.87]],.03,150,1,'#f00',31);
S(619,96,196,131,.2,1,[[0,.88],[10,.88]],.015,150,1,G,37);
S(619,96,196,131,.2,1,[[0,.9],[10,.9]],.008,150,1,'#f0f',41,.3);
// (d)
S(238,292,216,145,0,2.5,[[0,1.2],[.5,1.6],[1,1.85],[2,1.9],[2.6,1.95],[3.4,1.8],[4,1.3],[4.6,1.55],[5.5,1.7],[6.2,1.9],[7,2.0],[8.3,1.9],[9,1.6],[9.5,1.2],[10,1.1]],.06,60,1,'#f0f',43);
S(238,292,216,145,0,2.5,[[0,.25],[.5,.35],[10,.3]],.04,110,1,G,47);
S(238,292,216,145,0,2.5,[[0,.05],[10,.04]],.01,110,1,'#f00',53);
S(238,292,216,145,0,2.5,[[0,.02],[10,.02]],.005,60,1,'#00f',59);
// (e)
S(496,292,213,145,20,160,[[0,45],[1,40],[3.4,43],[3.6,90],[3.9,45],[5,42],[9,42],[9.6,75],[10,100]],6,130,1,'#00f',61);
S(496,292,213,145,20,160,[[0,60],[.5,52],[1,62],[3.4,68],[3.6,75],[4,68],[5,64],[9,66],[9.6,90],[10,90]],3,70,1,'#f0f',67);
S(496,292,213,145,20,160,[[0,62],[.5,55],[1,68],[3,74],[3.6,120],[3.9,82],[5,75],[9,76],[9.6,120],[10,140]],6,120,1,G,71);
S(496,292,213,145,20,160,[[0,70],[.5,58],[1,70],[3,78],[3.6,150],[3.9,90],[5,80],[9,80],[9.6,140],[10,160]],9,130,1,'#f00',73);
g.innerHTML=h;
// Fig 2 bars
var b='',D=[[[1,.88],[.87,.83],[1,.89],[.94,1.15],[1,.93],[1.03,.85]],[[1,1.01],[1.06,1.05],[1,.9],[.89,1.15],[1,.98],[1.01,.94]],[[1,.89],[.93,.89],[1,.8],[.83,1.33],[1,.91],[1.04,.8]]];
var RG=[[.6,1.2],[.8,1.2],[.6,1.4]],X=[102,349,595],T=109,B=224;
for(var k=0;k<3;k++){var x0=X[k]+21,w=201,y0=RG[k][0],y1=RG[k][1];
 var nt=(k==0)?7:9;for(var j=0;j<nt;j++){var yy=T+j*(B-T)/(nt-1);b+='<line x1="'+x0+'" x2="'+(x0+w)+'" y1="'+yy+'" y2="'+yy+'" stroke="#ccc" stroke-width="0.6"/>';}
 b+='<line x1="'+x0+'" x2="'+x0+'" y1="'+T+'" y2="'+(B+34)+'" stroke="#aaa"/>';
 for(var i=0;i<6;i++){var c=x0+(i+.5)*w/6;
  for(var q=0;q<2;q++){var v=D[k][i][q],yv=B-(v-y0)/(y1-y0)*(B-T);b+='<rect x="'+(c-11+q*11)+'" y="'+yv.toFixed(1)+'" width="10" height="'+(B-yv).toFixed(1)+'" fill="'+(q?'#c0504d':'#4f81bd')+'"/>';}
  b+='<line x1="'+(x0+(i+1)*w/6)+'" x2="'+(x0+(i+1)*w/6)+'" y1="'+B+'" y2="'+(B+(i%2?34:18))+'" stroke="#aaa"/>';}
}
document.getElementById('f2').innerHTML=b;
})();
</script>
<svg width="0" height="0" style="position:absolute"></svg>
<div style="position:absolute;left:1854px;top:0;width:927px;height:0">
<svg width="927" height="270" style="position:absolute;left:0;top:0" font-size="7">
<g text-anchor="middle" font-family="Liberation Sans">
<text x="140" y="238">3+1</text><text x="173" y="238">4+1</text><text x="207" y="238">3+1</text><text x="240" y="238">4+1</text><text x="274" y="238">3+1</text><text x="307" y="238">4+1</text>
<text x="157" y="254">Ivy</text><text x="224" y="254">Haswell</text><text x="291" y="254">Exynos</text>
<text x="387" y="238">3+1</text><text x="420" y="238">4+1</text><text x="454" y="238">3+1</text><text x="487" y="238">4+1</text><text x="521" y="238">3+1</text><text x="554" y="238">4+1</text>
<text x="404" y="254">Ivy</text><text x="471" y="254">Haswell</text><text x="538" y="254">Exynos</text>
<text x="633" y="238">3+1</text><text x="666" y="238">4+1</text><text x="700" y="238">3+1</text><text x="733" y="238">4+1</text><text x="767" y="238">3+1</text><text x="800" y="238">4+1</text>
<text x="650" y="254">Ivy</text><text x="717" y="254">Haswell</text><text x="784" y="254">Exynos</text></g></svg></div>
</body></html>
